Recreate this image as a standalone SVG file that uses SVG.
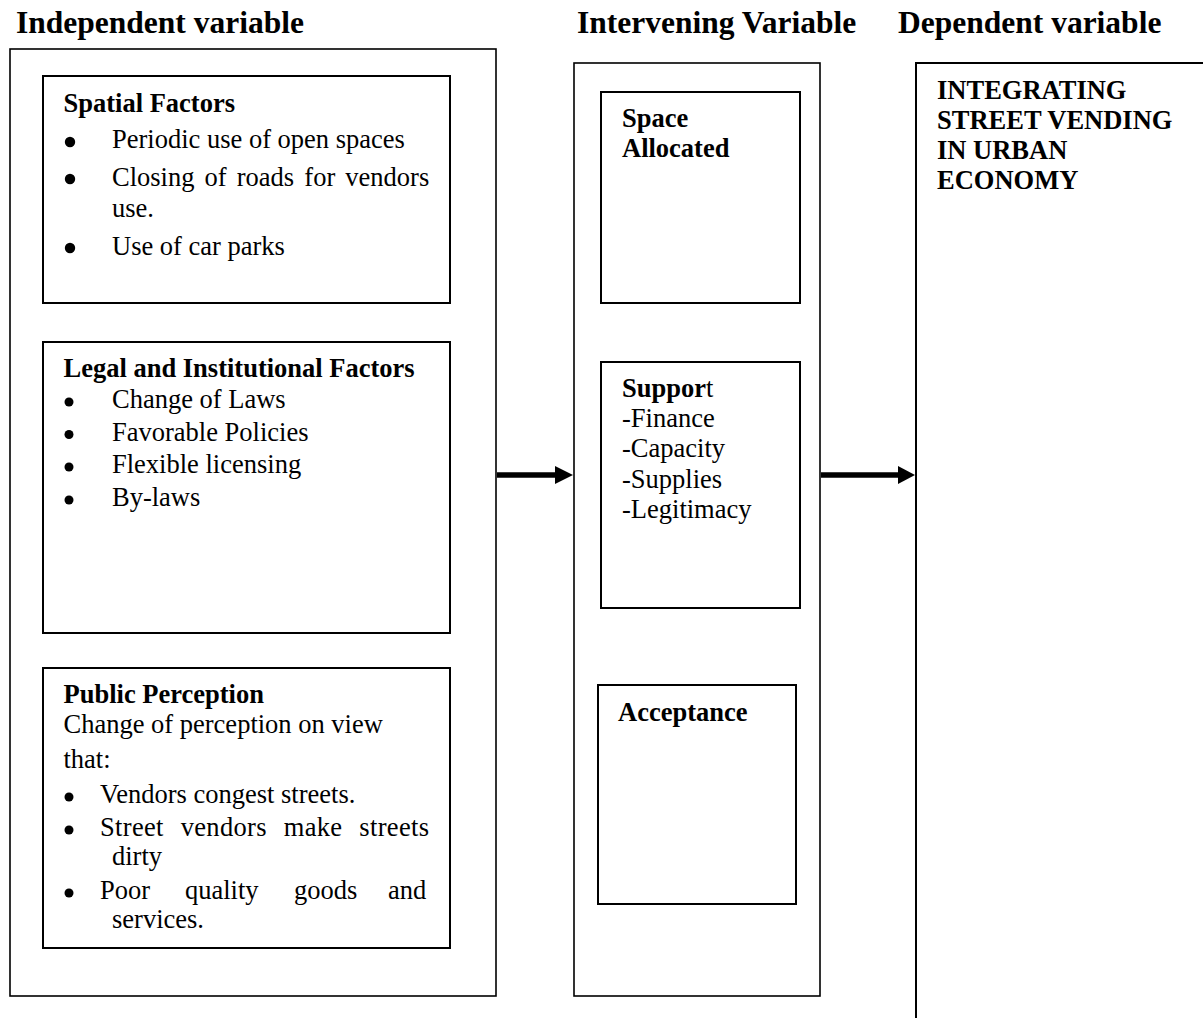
<svg xmlns="http://www.w3.org/2000/svg" width="1203" height="1018" viewBox="0 0 1203 1018">
<style>
  text { font-family: "Liberation Serif", "Times New Roman", serif; fill: #000; }
  .h { font-size: 31.5px; font-weight: bold; }
  .b { font-size: 26.5px; font-weight: bold; }
  .t { font-size: 26.5px; }
  .outer { fill: #fff; stroke: #000; stroke-width: 1.6; }
  .inner { fill: #fff; stroke: #000; stroke-width: 2; }
  .dot { fill: #000; }
  .shaft { stroke: #000; stroke-width: 5.5; fill: none; }
  .head { fill: #000; }
</style>
<rect width="1203" height="1018" fill="#fff"/>

<g id="headings">
  <text class="h" x="16" y="33">Independent variable</text>
  <text class="h" x="577" y="33">Intervening Variable</text>
  <text class="h" x="898" y="33">Dependent variable</text>
</g>

<g id="independent">
  <rect class="outer" x="10" y="49" width="486" height="947"/>
  <g id="spatial">
    <rect class="inner" x="43" y="76" width="407" height="227"/>
    <text class="b" x="63.5" y="112">Spatial Factors</text>
    <circle class="dot" cx="70" cy="142" r="5.2"/>
    <text class="t" x="112" y="148">Periodic use of open spaces</text>
    <circle class="dot" cx="70" cy="179" r="5.2"/>
    <text class="t" x="112" y="186" word-spacing="3.5">Closing of roads for vendors</text>
    <text class="t" x="112" y="217">use.</text>
    <circle class="dot" cx="70" cy="248" r="5.2"/>
    <text class="t" x="112" y="255">Use of car parks</text>
  </g>
  <g id="legal">
    <rect class="inner" x="43" y="342" width="407" height="291"/>
    <text class="b" x="63.5" y="377">Legal and Institutional Factors</text>
    <circle class="dot" cx="69" cy="402" r="4.5"/>
    <text class="t" x="112" y="408">Change of Laws</text>
    <circle class="dot" cx="69" cy="434.5" r="4.5"/>
    <text class="t" x="112" y="440.5">Favorable Policies</text>
    <circle class="dot" cx="69" cy="467" r="4.5"/>
    <text class="t" x="112" y="473">Flexible licensing</text>
    <circle class="dot" cx="69" cy="500" r="4.5"/>
    <text class="t" x="112" y="506">By-laws</text>
  </g>
  <g id="public">
    <rect class="inner" x="43" y="668" width="407" height="280"/>
    <text class="b" x="63.5" y="703">Public Perception</text>
    <text class="t" x="63.5" y="733">Change of perception on view</text>
    <text class="t" x="63.5" y="768">that:</text>
    <circle class="dot" cx="69" cy="797" r="4.5"/>
    <text class="t" x="100" y="803">Vendors congest streets.</text>
    <circle class="dot" cx="69" cy="830" r="4.5"/>
    <text class="t" x="100" y="836" textLength="329" lengthAdjust="spacing" word-spacing="10">Street vendors make streets</text>
    <text class="t" x="112" y="865">dirty</text>
    <circle class="dot" cx="69" cy="893" r="4.5"/>
    <text class="t" y="899"><tspan x="100">Poor</tspan><tspan x="185">quality</tspan><tspan x="294">goods</tspan><tspan x="388">and</tspan></text>
    <text class="t" x="112" y="928">services.</text>
  </g>
</g>

<g id="intervening">
  <rect class="outer" x="574" y="63" width="246" height="933"/>
  <g id="space">
    <rect class="inner" x="601" y="92" width="199" height="211"/>
    <text class="b" x="622" y="127">Space</text>
    <text class="b" x="622" y="157">Allocated</text>
  </g>
  <g id="support">
    <rect class="inner" x="601" y="362" width="199" height="246"/>
    <text x="622" y="397" class="t"><tspan font-weight="bold">Suppor</tspan>t</text>
    <text class="t" x="622" y="427">-Finance</text>
    <text class="t" x="622" y="457">-Capacity</text>
    <text class="t" x="622" y="488">-Supplies</text>
    <text class="t" x="622" y="518">-Legitimacy</text>
  </g>
  <g id="acceptance">
    <rect class="inner" x="598" y="685" width="198" height="219"/>
    <text class="b" x="618" y="721">Acceptance</text>
  </g>
</g>

<g id="dependent">
  <path d="M916 1018 V63 H1203" fill="none" stroke="#000" stroke-width="2"/>
  <text class="b" x="937" y="99">INTEGRATING</text>
  <text class="b" x="937" y="129">STREET VENDING</text>
  <text class="b" x="937" y="159">IN URBAN</text>
  <text class="b" x="937" y="189">ECONOMY</text>
</g>

<g id="connectors">
  <line class="shaft" x1="497" y1="475" x2="556" y2="475"/>
  <polygon class="head" points="555,466 573,475 555,484"/>
  <line class="shaft" x1="821" y1="475" x2="899" y2="475"/>
  <polygon class="head" points="898,466 915,475 898,484"/>
</g>
</svg>
